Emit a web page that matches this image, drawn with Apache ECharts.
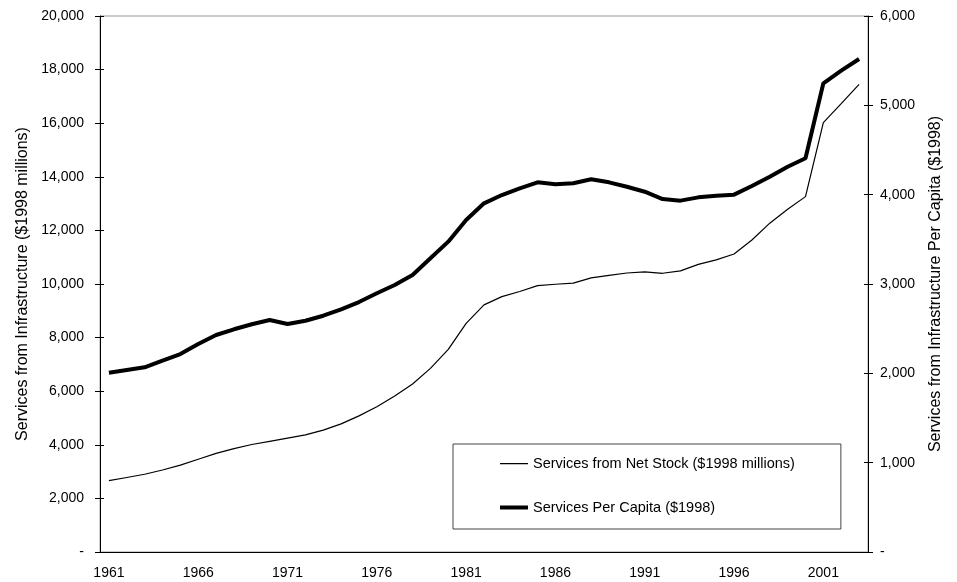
<!DOCTYPE html>
<html>
<head>
<meta charset="utf-8">
<script src="https://cdn.jsdelivr.net/npm/echarts@6/dist/echarts.min.js"></script>
<style>
  body { margin: 0; background: #fff; }
  #main { width: 957px; height: 582px; }
</style>
</head>
<body>
<div id="main"></div>
<script>
// years on the x axis
var years = [];
for (var y = 1961; y <= 2003; y++) years.push(String(y));

// Services from Net Stock ($1998 millions), left axis
var netStock = [2660, 2780, 2900, 3060, 3240, 3460, 3680, 3860, 4010, 4130,
  4250, 4370, 4550, 4780, 5080, 5420, 5820, 6270, 6850, 7560,
  8530, 9220, 9530, 9720, 9940, 9990, 10030, 10230, 10320, 10410,
  10450, 10400, 10490, 10730, 10900, 11120, 11640, 12270, 12790, 13260,
  16020, 16730, 17450];

// Services Per Capita ($1998), right axis
var perCapita = [2007, 2037, 2067, 2142, 2216, 2328, 2429, 2493, 2549, 2597,
  2552, 2589, 2645, 2716, 2798, 2896, 2989, 3101, 3288, 3474,
  3716, 3903, 3996, 4071, 4138, 4116, 4127, 4172, 4138, 4089,
  4033, 3951, 3933, 3970, 3989, 4000, 4097, 4201, 4313, 4407,
  5247, 5388, 5519];

var seriesNames = ['Services from Net Stock ($1998 millions)', 'Services Per Capita ($1998)'];

var font = 'Arial, "Liberation Sans", sans-serif';

function fmt(v) {
  if (v === 0) return '-';
  return v.toLocaleString('en-US');
}

// legend icons: plain lines, thin and thick (M/L points only pad the box)
var thinIcon = 'path://M0,0L0,0.01M0,6.5h28v1.2h-28zM28,14L28,14.01';
var thickIcon = 'path://M0,0L0,0.01M0,5h28v4h-28zM28,14L28,14.01';

var myChart = echarts.init(document.getElementById('main'));

var option = {
  animation: false,
  textStyle: { fontFamily: font, color: '#000' },
  grid: {
    left: 100, right: 89, top: 16, bottom: 30,
    show: true, borderColor: '#999', borderWidth: 1, backgroundColor: 'transparent'
  },
  legend: {
    data: [
      { name: seriesNames[0], icon: thinIcon },
      { name: seriesNames[1], icon: thickIcon }
    ],
    orient: 'vertical',
    align: 'left',
    left: 453, top: 444,
    itemWidth: 28, itemHeight: 14, itemGap: 29,
    padding: [12, 46, 14, 47],
    borderColor: '#444', borderWidth: 1,
    itemStyle: { color: '#000' },
    textStyle: { fontFamily: font, fontSize: 14.5, color: '#000' }
  },
  xAxis: [{
    type: 'category',
    data: years,
    boundaryGap: true,
    position: 'bottom',
    axisLine: { onZero: false, lineStyle: { color: '#000', width: 1 } },
    axisTick: { interval: 4, length: 5, lineStyle: { color: '#000' } },
    axisLabel: { interval: 4, color: '#000', fontSize: 14, fontFamily: font, margin: 14 },
    splitLine: { show: false }
  }, {
    type: 'category',
    data: years,
    boundaryGap: true,
    position: 'bottom',
    axisLine: { show: false, onZero: false },
    axisTick: { interval: 4, inside: true, length: 4, lineStyle: { color: '#000' } },
    axisLabel: { show: false },
    splitLine: { show: false }
  }],
  yAxis: [{
    type: 'value',
    position: 'left',
    min: 0, max: 20000, interval: 2000,
    name: 'Services from Infrastructure ($1998 millions)',
    nameLocation: 'middle', nameRotate: 90, nameGap: 69,
    nameTextStyle: { fontSize: 16, color: '#000', fontFamily: font },
    axisLine: { show: true, lineStyle: { color: '#000' } },
    axisTick: { show: true, length: 5, lineStyle: { color: '#000' } },
    axisLabel: { formatter: fmt, color: '#000', fontSize: 14, fontFamily: font, margin: 16 },
    splitLine: { show: false }
  }, {
    type: 'value',
    position: 'right',
    min: 0, max: 6000, interval: 1000,
    name: 'Services from Infrastructure Per Capita ($1998)',
    nameLocation: 'middle', nameRotate: 90, nameGap: 60,
    nameTextStyle: { fontSize: 16, color: '#000', fontFamily: font },
    axisLine: { show: true, lineStyle: { color: '#000' } },
    axisTick: { show: true, length: 5, lineStyle: { color: '#000' } },
    axisLabel: { formatter: fmt, color: '#000', fontSize: 14, fontFamily: font, margin: 12 },
    splitLine: { show: false }
  }, {
    type: 'value',
    position: 'left',
    min: 0, max: 20000, interval: 2000,
    axisLine: { show: false },
    axisTick: { show: true, inside: true, length: 4, lineStyle: { color: '#000' } },
    axisLabel: { show: false },
    splitLine: { show: false }
  }, {
    type: 'value',
    position: 'right',
    min: 0, max: 6000, interval: 1000,
    axisLine: { show: false },
    axisTick: { show: true, inside: true, length: 4, lineStyle: { color: '#000' } },
    axisLabel: { show: false },
    splitLine: { show: false }
  }],
  series: [{
    name: seriesNames[0],
    type: 'line',
    yAxisIndex: 0,
    data: netStock,
    symbol: 'none',
    lineStyle: { color: '#000', width: 1.2 },
    itemStyle: { color: '#000' }
  }, {
    name: seriesNames[1],
    type: 'line',
    yAxisIndex: 1,
    data: perCapita,
    symbol: 'none',
    lineStyle: { color: '#000', width: 4 },
    itemStyle: { color: '#000' }
  }]
};

myChart.setOption(option);
</script>
</body>
</html>
